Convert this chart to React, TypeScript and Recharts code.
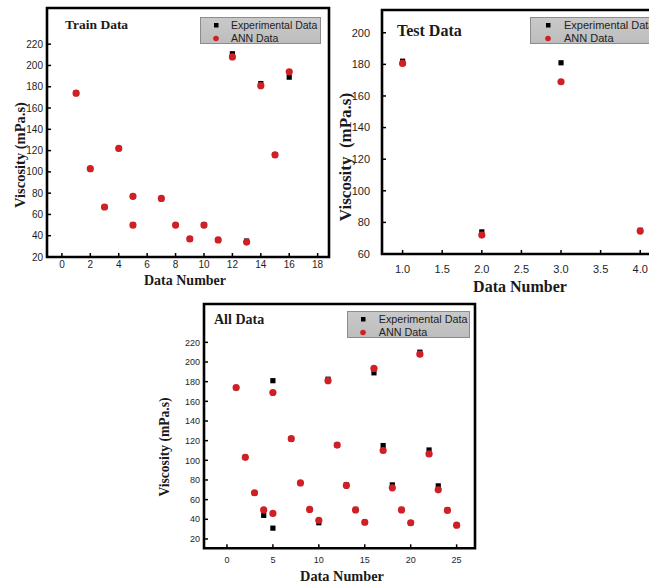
import React from "react";
import {
  ScatterChart,
  Scatter,
  XAxis,
  YAxis,
  Legend,
  ReferenceArea,
} from "recharts";

// Train data
const trainNo = [1, 2, 3, 4, 5, 5, 7, 8, 9, 10, 11, 12, 13, 14, 15, 16];
const trainExp = [174, 103, 67, 122, 77, 50, 75, 50, 37, 50, 36, 211, 35, 183, 116, 189];
const trainAnn = [174, 103, 67, 122, 77, 50, 75, 50, 37, 50, 36, 208, 34, 181, 116, 194];
const trainXTicks = [0, 2, 4, 6, 8, 10, 12, 14, 16, 18];
const trainYTicks = [20, 40, 60, 80, 100, 120, 140, 160, 180, 200, 220];

// Test data
const testNo = [1, 2, 3, 4];
const testExp = [182, 74, 181, 75];
const testAnn = [180.6, 72, 169, 74.5];
const testXTicks = [1, 1.5, 2, 2.5, 3, 3.5, 4];
const testYTicks = [60, 80, 100, 120, 140, 160, 180, 200];

// All data
const allNo = [1, 2, 3, 4, 5, 5, 7, 8, 9, 10, 11, 12, 13, 14, 15, 16, 17, 18, 19, 20, 21, 22, 23, 24, 25];
const allExp = [174, 103, 67, 44, 181, 31, 122, 77, 50, 36.5, 182.5, 115.5, 75, 50, 37, 189, 115, 75, 50, 36.5, 210, 110.5, 74, 49.5, 34];
const allAnn = [174, 103, 67, 49.5, 169, 46, 122, 77, 50, 39, 181, 115.5, 74.5, 49.5, 37, 193.5, 110, 72, 49.5, 36.5, 208, 106.5, 70, 49, 34];
const allXTicks = [0, 5, 10, 15, 20, 25];
const allYTicks = [20, 40, 60, 80, 100, 120, 140, 160, 180, 200, 220];

const SERIF = '"Liberation Serif", "Times New Roman", serif';
const SANS = '"Liberation Sans", Arial, sans-serif';
const RED = "#cf2026";

const toPoints = (xs: number[], ys: number[]) => xs.map((x, i) => ({ x, y: ys[i] }));

const squareShape = (p: any) => (
  <rect x={p.cx - 2.6} y={p.cy - 2.6} width={5.2} height={5.2} fill="#000" />
);
const circleShape = (p: any) => <circle cx={p.cx} cy={p.cy} r={3.6} fill={RED} />;

function LegendBox({ payload, width, markerX, textX, fontSize }: any) {
  // experimental (square) row first, as in the figure
  const items = [...(payload ?? [])].sort(
    (a: any, b: any) => (a.type === "square" ? 0 : 1) - (b.type === "square" ? 0 : 1)
  );
  return (
    <div
      style={{
        width,
        height: 27,
        boxSizing: "border-box",
        background: "linear-gradient(#c9c9c9, #bdbdbd)",
        border: "1px solid #8c8c8c",
        fontFamily: SANS,
        fontSize,
        color: "#222",
        position: "relative",
      }}
    >
      {items.map((e: any, i: number) => (
        <div
          key={i}
          style={{
            position: "absolute",
            left: 0,
            top: 1 + i * 12.5,
            height: 12,
            lineHeight: "12px",
            whiteSpace: "nowrap",
          }}
        >
          <svg width={10} height={12} style={{ position: "absolute", left: markerX - 5, top: 0 }}>
            {e.type === "square" ? (
              <rect x={3} y={4} width={4.5} height={4.5} fill="#000" />
            ) : (
              <circle cx={5} cy={6.5} r={2.8} fill={RED} />
            )}
          </svg>
          <span style={{ position: "absolute", left: textX }}>{e.value}</span>
        </div>
      ))}
    </div>
  );
}

type PanelProps = {
  left: number;
  top: number;
  width: number;
  height: number;
  yAxisWidth: number;
  xAxisHeight: number;
  margin: { top: number; right: number; left: number; bottom: number };
  xDomain: [number, number];
  yDomain: [number, number];
  xTicks: number[];
  yTicks: number[];
  xFormat?: (v: number) => string;
  tickFont: number;
  xTickMargin: number;
  yTickMargin: number;
  exp: { x: number; y: number }[];
  ann: { x: number; y: number }[];
  title: string;
  titlePos: { x: number; y: number; size: number };
  xTitlePos: { x: number; y: number; size: number };
  yTitlePos: { x: number; y: number; size: number };
  yTitle: string;
  legendPos: { x: number; y: number; w: number; markerX: number; textX: number; size: number };
};

function Panel(p: PanelProps) {
  const textStyle = (x: number, y: number, size: number, rotate = false): React.CSSProperties => ({
    position: "absolute",
    left: x,
    top: y,
    transform: `translate(-50%, -50%)${rotate ? " rotate(-90deg)" : ""}`,
    fontFamily: SERIF,
    fontWeight: 700,
    fontSize: size,
    lineHeight: 1,
    whiteSpace: "pre",
    color: "#1a1a1a",
  });
  const tick = { fill: "#1e1e1e", fontSize: p.tickFont, fontFamily: SANS };
  return (
    <div style={{ position: "absolute", left: p.left, top: p.top, width: p.width, height: p.height }}>
      <ScatterChart width={p.width} height={p.height} margin={p.margin}>
        <XAxis
          type="number"
          dataKey="x"
          domain={p.xDomain}
          ticks={p.xTicks}
          tickFormatter={p.xFormat}
          interval={0}
          height={p.xAxisHeight}
          axisLine={false}
          tickSize={-4}
          tickMargin={p.xTickMargin}
          tickLine={{ stroke: "#000", strokeWidth: 1.5 }}
          tick={tick}
          allowDataOverflow
        />
        <YAxis
          type="number"
          dataKey="y"
          domain={p.yDomain}
          ticks={p.yTicks}
          interval={0}
          width={p.yAxisWidth}
          axisLine={false}
          tickSize={-4}
          tickMargin={p.yTickMargin}
          tickLine={{ stroke: "#000", strokeWidth: 1.5 }}
          tick={tick}
          allowDataOverflow
        />
        <ReferenceArea
          x1={p.xDomain[0]}
          x2={p.xDomain[1]}
          y1={p.yDomain[0]}
          y2={p.yDomain[1]}
          fill="none"
          stroke="#000"
          strokeWidth={2.6}
          ifOverflow="visible"
        />
        <Legend
          layout="horizontal"
          verticalAlign="middle"
          align="center"
          wrapperStyle={{ left: p.legendPos.x, top: p.legendPos.y, width: p.legendPos.w, height: 27 }}
          content={(props: any) => (
            <LegendBox
              payload={props.payload}
              width={p.legendPos.w}
              markerX={p.legendPos.markerX}
              textX={p.legendPos.textX}
              fontSize={p.legendPos.size}
            />
          )}
        />
        <Scatter
          name="Experimental Data"
          data={p.exp}
          fill="#000"
          legendType="square"
          shape={squareShape}
          isAnimationActive={false}
        />
        <Scatter
          name="ANN Data"
          data={p.ann}
          fill={RED}
          legendType="circle"
          shape={circleShape}
          isAnimationActive={false}
        />
      </ScatterChart>
      <div style={{ ...textStyle(p.titlePos.x, p.titlePos.y, p.titlePos.size), transform: "translate(0, -50%)" }}>
        {p.title}
      </div>
      <div style={textStyle(p.xTitlePos.x, p.xTitlePos.y, p.xTitlePos.size)}>Data Number</div>
      <div style={textStyle(p.yTitlePos.x, p.yTitlePos.y, p.yTitlePos.size, true)}>{p.yTitle}</div>
    </div>
  );
}

export default function App() {
  return (
    <div
      style={{
        position: "absolute",
        left: 0,
        top: 0,
        width: 649,
        height: 585,
        overflow: "hidden",
        background: "#fff",
      }}
    >
      <Panel
        left={0}
        top={0}
        width={340}
        height={295}
        yAxisWidth={47}
        xAxisHeight={38}
        margin={{ top: 8, right: 11, left: 0, bottom: 0 }}
        xDomain={[-1.05, 18.8]}
        yDomain={[20, 254]}
        xTicks={trainXTicks}
        yTicks={trainYTicks}
        tickFont={10}
        xTickMargin={8}
        yTickMargin={8}
        exp={toPoints(trainNo, trainExp)}
        ann={toPoints(trainNo, trainAnn)}
        title="Train Data"
        titlePos={{ x: 65, y: 25, size: 13.5 }}
        xTitlePos={{ x: 185, y: 281, size: 14 }}
        yTitlePos={{ x: 20, y: 155, size: 14.5 }}
        yTitle="Viscosity (mPa.s)"
        legendPos={{ x: 200, y: 17, w: 121, markerX: 15, textX: 30, size: 10.5 }}
      />
      <Panel
        left={320}
        top={0}
        width={360}
        height={300}
        yAxisWidth={62}
        xAxisHeight={46}
        margin={{ top: 10, right: 16, left: 0, bottom: 0 }}
        xDomain={[0.74, 4.3]}
        yDomain={[60, 214.4]}
        xTicks={testXTicks}
        yTicks={testYTicks}
        xFormat={(v: number) => v.toFixed(1)}
        tickFont={11}
        xTickMargin={15}
        yTickMargin={16}
        exp={toPoints(testNo, testExp)}
        ann={toPoints(testNo, testAnn)}
        title="Test Data"
        titlePos={{ x: 77, y: 31, size: 16 }}
        xTitlePos={{ x: 200, y: 287, size: 16 }}
        yTitlePos={{ x: 25, y: 157, size: 17 }}
        yTitle="Viscosity  (mPa.s)"
        legendPos={{ x: 210, y: 17, w: 140, markerX: 17, textX: 33, size: 11 }}
      />
      <Panel
        left={150}
        top={290}
        width={340}
        height={295}
        yAxisWidth={54}
        xAxisHeight={36.7}
        margin={{ top: 14, right: 15, left: 0, bottom: 0 }}
        xDomain={[-2.5, 27]}
        yDomain={[10.5, 259]}
        xTicks={allXTicks}
        yTicks={allYTicks}
        tickFont={9}
        xTickMargin={12}
        yTickMargin={8}
        exp={toPoints(allNo, allExp)}
        ann={toPoints(allNo, allAnn)}
        title="All Data"
        titlePos={{ x: 64, y: 30, size: 14 }}
        xTitlePos={{ x: 192, y: 286, size: 14.3 }}
        yTitlePos={{ x: 15, y: 157, size: 13.6 }}
        yTitle="Viscosity (mPa.s)"
        legendPos={{ x: 197.3, y: 21, w: 123, markerX: 15, textX: 30.4, size: 10.8 }}
      />
    </div>
  );
}
